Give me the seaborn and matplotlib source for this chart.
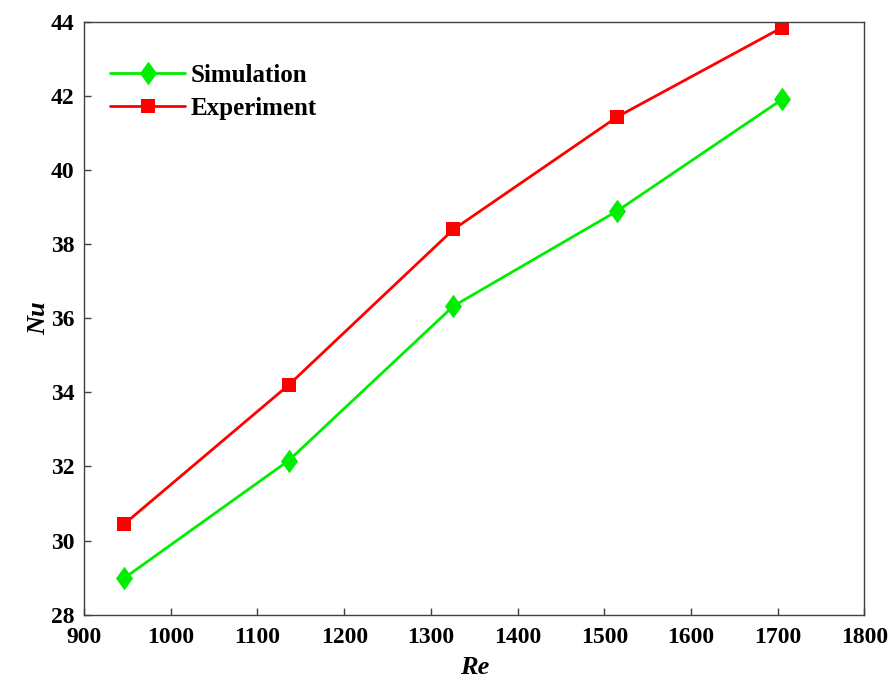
import matplotlib
matplotlib.use("Agg")
import matplotlib.pyplot as plt
import seaborn as sns
import pandas as pd

re_values = [946, 1136, 1326, 1515, 1705]
nu_simulation = [28.98, 32.16, 36.33, 38.90, 41.91]
nu_experiment = [30.44, 34.20, 38.40, 41.44, 43.85]

x_ticks = [900, 1000, 1100, 1200, 1300, 1400, 1500, 1600, 1700, 1800]
y_ticks = [28, 30, 32, 34, 36, 38, 40, 42, 44]

sns.set_style("white")
plt.rcParams["font.family"] = ["Liberation Serif", "DejaVu Serif"]
plt.rcParams["font.weight"] = "bold"
plt.rcParams["text.color"] = "black"
plt.rcParams["axes.labelcolor"] = "black"
plt.rcParams["xtick.color"] = "black"
plt.rcParams["ytick.color"] = "black"

# taller-than-wide diamond like the original
tall_diamond = [(-0.36, 0), (0, 0.5), (0.36, 0), (0, -0.5), (-0.36, 0)]

fig = plt.figure(figsize=(8.94, 6.86), dpi=100)
ax = fig.add_axes([0.094, 0.104, 0.873, 0.864])

df = pd.DataFrame({"Re": re_values, "Simulation": nu_simulation, "Experiment": nu_experiment})

sns.lineplot(data=df, x="Re", y="Simulation", ax=ax, color="#00ee00", lw=2.0,
             marker=tall_diamond, markersize=17, markeredgewidth=0, label="Simulation")
sns.lineplot(data=df, x="Re", y="Experiment", ax=ax, color="#ff0000", lw=2.0,
             marker="s", markersize=9.5, markeredgewidth=0, label="Experiment")

ax.set_xlim(900, 1800)
ax.set_ylim(28, 44)
ax.set_xticks(x_ticks)
ax.set_yticks(y_ticks)
ax.tick_params(direction="in", length=5, width=1, labelsize=17,
               bottom=True, left=True, top=False, right=False)
ax.tick_params(axis="x", pad=9)
ax.tick_params(axis="y", pad=7)
ax.tick_params(color="#404040")
for lab in ax.get_xticklabels() + ax.get_yticklabels():
    lab.set_fontweight("bold")

for s in ax.spines.values():
    s.set_color("#404040")
    s.set_linewidth(1.0)

ax.set_xlabel("Re", fontsize=19, fontweight="bold", style="italic", labelpad=6)
ax.set_ylabel("Nu", fontsize=19, fontweight="bold", style="italic", labelpad=0)

leg = ax.legend(loc="upper left", bbox_to_anchor=(0.005, 0.967), frameon=False,
                prop={"size": 18, "weight": "bold"}, handlelength=3.0,
                handletextpad=0.2, labelspacing=0.4)

fig.savefig("out.png", dpi=100)
